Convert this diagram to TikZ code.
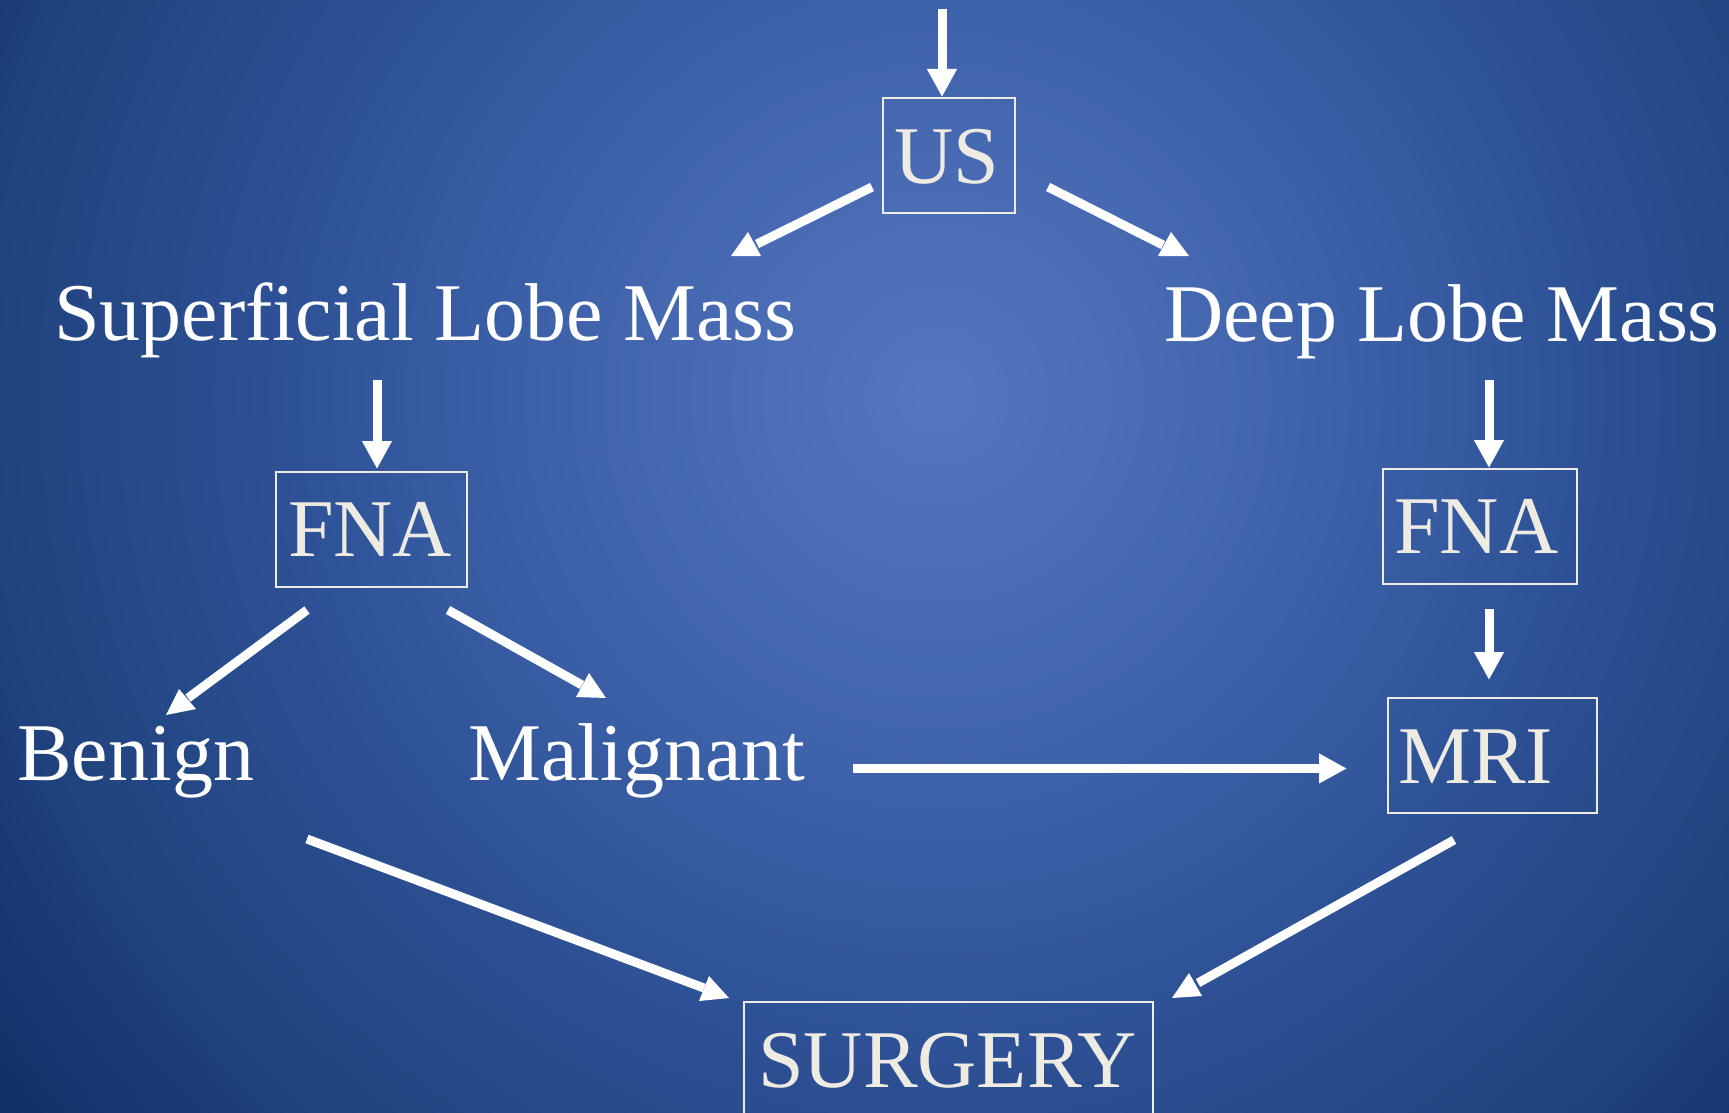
\documentclass[tikz,border=0pt]{standalone}
\usepackage{fontspec}
\setmainfont{Liberation Serif}
\usetikzlibrary{arrows.meta,calc}
\definecolor{bgA}{RGB}{86,119,192}
\definecolor{bgB}{RGB}{62,98,170}
\definecolor{bgC}{RGB}{42,78,144}
\definecolor{bgD}{RGB}{33,68,127}
\definecolor{bgE}{RGB}{27,60,120}
\definecolor{bgF}{RGB}{15,46,100}
\definecolor{cream}{RGB}{238,235,227}
\begin{document}
\begin{tikzpicture}[x=1pt,y=-1pt,
  box/.style={draw=cream, line width=2pt, inner sep=0pt, anchor=north west},
  boxtxt/.style={text=cream, font=\fontsize{82}{90}\selectfont, inner sep=0pt, anchor=base west},
  lbl/.style={text=white, font=\fontsize{82}{90}\selectfont, inner sep=0pt, anchor=base west},
  shaft/.style={draw=white, line width=9pt},
  arr/.style={shaft, -{Triangle[length=28pt,width=28pt]}},
  head/.style={fill=white}]
% background: radial gradient built from concentric discs
\begin{scope}
\clip (0,0) rectangle (1729,1113);
\fill[bgF] (0,0) rectangle (1729,1113);
\foreach \ra/\rb/\ca/\cb/\n in {1018/1200/bgE/bgF/20, 937/1018/bgD/bgE/10, 716/937/bgC/bgD/28, 397/716/bgB/bgC/40, 0/397/bgA/bgB/50}{
  \foreach \i in {0,...,\n}{
    \pgfmathsetmacro\rr{\rb-(\rb-\ra)*(\i/\n)}
    \pgfmathtruncatemacro\pp{100*(\i/\n)}
    \fill[\ca!\pp!\cb] (937,397) circle[radius=\rr pt];
  }
}
\end{scope}
\useasboundingbox (0,0) rectangle (1729,1113);

% boxes
\node[box, minimum width=132pt, minimum height=115pt] (us) at (882,97) {};
\node[boxtxt] (ust) at (894,183) {US};
\node[box, minimum width=191pt, minimum height=115pt] (fnal) at (275,471) {};
\node[boxtxt] (fnalt) at (288,556) {FNA};
\node[box, minimum width=194pt, minimum height=115pt] (fnar) at (1382,468) {};
\node[boxtxt] (fnart) at (1394,553) {FNA};
\node[box, minimum width=209pt, minimum height=115pt] (mri) at (1387,697) {};
\node[boxtxt] (mrit) at (1398,783) {MRI};
\node[box, minimum width=409pt, minimum height=140pt] (surg) at (743,1001) {};
\node[boxtxt] (surgt) at (758,1087) {SURGERY};

% labels
\node[lbl] (sup) at (54,340) {Superficial Lobe Mass};
\node[lbl] (deep) at (1164,341) {Deep Lobe Mass};
\node[lbl] (ben) at (17,780) {Benign};
\node[lbl] (mal) at (468,780) {Malignant};

% straight arrows
\coordinate (t0) at (942,9);
\coordinate (t1) at (942,97);
\draw[arr] (t0) -- (t1);
\coordinate (sl0) at (377,380);
\coordinate (sl1) at (377,469);
\draw[arr] (sl0) -- (sl1);
\coordinate (dr0) at (1489,380);
\coordinate (dr1) at (1489,468);
\draw[arr] (dr0) -- (dr1);
\coordinate (fm0) at (1489,609);
\coordinate (fm1) at (1489,680);
\draw[arr] (fm0) -- (fm1);
\coordinate (mm0) at (853,768.5);
\coordinate (mm1) at (1347,768.5);
\draw[arr] (mm0) -- (mm1);

% diagonal arrows (heads as drawn in the reference)
\coordinate (a0) at (872,187);
\coordinate (a1) at (757,244);
\draw[shaft] (a0) -- (a1);
\fill[head] (731,256) -- (761,256) -- (748,232) -- cycle;

\coordinate (b0) at (1048,187);
\coordinate (b1) at (1163,245);
\draw[shaft] (b0) -- (b1);
\fill[head] (1158,256) -- (1189,256) -- (1171,232) -- cycle;

\coordinate (c0) at (307,610);
\coordinate (c1) at (188,698);
\draw[shaft] (c0) -- (c1);
\fill[head] (166,715) -- (196,709) -- (179,689) -- cycle;

\coordinate (d0) at (448,610);
\coordinate (d1) at (582,685);
\draw[shaft] (d0) -- (d1);
\fill[head] (576,697) -- (606,698) -- (589,673) -- cycle;

\coordinate (e0) at (307,839);
\coordinate (e1) at (704,988);
\draw[shaft] (e0) -- (e1);
\fill[head] (699,1001) -- (729,998) -- (709,976) -- cycle;

\coordinate (f0) at (1454,840);
\coordinate (f1) at (1198,983);
\draw[shaft] (f0) -- (f1);
\fill[head] (1172,998) -- (1202,996) -- (1189,973) -- cycle;
\end{tikzpicture}
\end{document}
